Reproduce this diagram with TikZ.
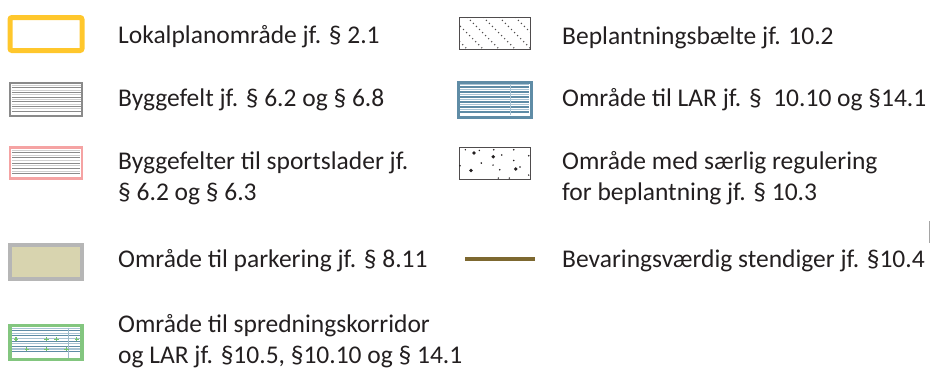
\documentclass[tikz,border=0pt]{standalone}
\usepackage{fontspec}
\setmainfont{Carlito}
\usetikzlibrary{calc}
\definecolor{textgray}{HTML}{231F20}
\definecolor{planyellow}{HTML}{FFC72C}
\definecolor{feltgray}{HTML}{8A8A8A}
\definecolor{lightline}{HTML}{CFCFCF}
\definecolor{sportpink}{HTML}{F5A3A3}
\definecolor{parkfill}{HTML}{D8D4AF}
\definecolor{parkgray}{HTML}{B6B6B6}
\definecolor{spredgreen}{HTML}{83C67F}
\definecolor{plusgreen}{HTML}{74C46A}
\definecolor{larblue}{HTML}{5F8CA6}
\definecolor{larlight}{HTML}{A9C3D3}
\definecolor{digebrown}{HTML}{7D6830}

\begin{document}
\begin{tikzpicture}[x=1pt,y=-1pt]
			\tikzset{legtext/.style={anchor=west, inner sep=0pt, text=textgray,
					font=\fontsize{25.5}{31}\selectfont, align=left}}
			\tikzset{symbox/.style={minimum width=72pt, minimum height=33pt,
					inner sep=0pt, outer sep=0pt}}
			\tikzset{darkrule/.style={draw=feltgray, line width=0.9pt}}
			\tikzset{lightrule/.style={draw=lightline, line width=0.9pt}}
			\tikzset{plusmark/.style={draw=plusgreen, line width=1.1pt}}
			\useasboundingbox (0,0) rectangle (930,370);
			%symbols, left column
			\node[symbox, draw=planyellow, line width=5pt, rounded corners=2pt] (plan) at (46,34) {};
			\node[symbox, draw=feltgray, line width=1.6pt] (felt) at (46,99.5) {};
			\node[symbox, draw=sportpink, line width=2.6pt, minimum height=31pt] (sport) at (46,163) {};
			\node[symbox, draw=parkgray, fill=parkfill, line width=4pt, minimum height=34pt] (park) at (46,261.5) {};
			\node[symbox, draw=spredgreen, line width=3.5pt, minimum height=34pt] (spred) at (46,342.5) {};
			%symbols, right column
			\node[symbox, draw=textgray!80, line width=1pt, minimum width=71pt, minimum height=32pt] (baelte) at (494.5,33) {};
			\node[symbox, draw=larblue, line width=3pt, minimum width=73pt, minimum height=35pt] (lar) at (494.5,99.5) {};
			\node[symbox, draw=textgray!80, line width=1pt, minimum width=71pt, minimum height=31.5pt] (saerlig) at (494.5,163.5) {};
			\coordinate (dige a) at (465,259);
			\coordinate (dige b) at (535,259);
			%fill patterns
			\foreach \k in {1,...,6} {
				\draw[lightrule] ($(felt.north west)+(1.5,\k*4.7-2.3)$) -- ($(felt.north east)+(-1.5,\k*4.7-2.3)$);
				\draw[darkrule] ($(felt.north west)+(1.5,\k*4.7)$) -- ($(felt.north east)+(-1.5,\k*4.7)$);
			}
			\foreach \k in {1,...,5} {
				\draw[lightrule] ($(sport.north west)+(2,\k*5.2-2.5)$) -- ($(sport.north east)+(-2,\k*5.2-2.5)$);
				\draw[darkrule] ($(sport.north west)+(2,\k*5.2)$) -- ($(sport.north east)+(-2,\k*5.2)$);
			}
			\foreach \k in {1,...,6} {
				\draw[draw=larlight, line width=1.2pt] ($(lar.north west)+(2,\k*5-2.5)$) -- ($(lar.north east)+(-2,\k*5-2.5)$);
				\draw[draw=larblue, line width=1.1pt] ($(lar.north west)+(2,\k*5)$) -- ($(lar.north east)+(-2,\k*5)$);
			}
			\draw[draw=larlight, line width=0.6pt] ($(lar.north west)+(52,2)$) -- ($(lar.south west)+(52,-2)$);
			\foreach \k in {1,...,5} {
				\draw[draw=larlight, line width=1.2pt] ($(spred.north west)+(2,\k*5.2-2.6)$) -- ($(spred.north east)+(-2,\k*5.2-2.6)$);
				\draw[draw=larblue, line width=1pt] ($(spred.north west)+(2,\k*5.2)$) -- ($(spred.north east)+(-2,\k*5.2)$);
			}
			\draw[draw=larblue!60, line width=0.6pt] ($(spred.north west)+(58,2)$) -- ($(spred.south west)+(58,-2)$);
			\foreach \dx/\dy in {6/13.7, 36.3/13.7, 46.3/13.7, 66.7/13.7, 16.7/23.7, 36.3/23.7, 56.3/23.7} {
				\draw[plusmark] ($(spred.north west)+(\dx-2.2,\dy)$) -- ++(4.4,0);
				\draw[plusmark] ($(spred.north west)+(\dx,\dy-2.2)$) -- ++(0,4.4);
			}
			\begin{scope}
				\clip (baelte.north west) rectangle (baelte.south east);
				\foreach \dx in {-40,-24,...,72}
					\draw[textgray!80, line width=1.2pt, dash pattern=on 1pt off 3.3pt]
						($(baelte.north west)+(\dx,0)$) -- ++(32,32);
			\end{scope}
			\foreach \px/\py/\r in {6.3/2/0.8, 15/5.3/1.9, 20.3/2.7/0.8, 34.7/2/0.8, 34.3/9/1.9, 42.7/7.3/0.9,
					54.7/2/0.8, 54.7/12.7/0.9, 69.7/8/0.8, 1/18/0.8, 22.3/15.3/0.9, 34/17.3/0.8,
					12/22.7/1.9, 40.7/22/0.9, 56.7/21.3/1.9, 61/19.3/0.9, 39.3/30.3/0.8, 50.3/30.3/0.8, 69.7/27.3/0.8}
				\fill[textgray] ($(saerlig.north west)+(\px,\py)$) circle (\r);
			\draw[digebrown, line width=4.5pt] (dige a) -- (dige b);
			\coordinate (edge a) at (929.5,221);
			\coordinate (edge b) at (929.5,243);
			\draw[lightline!80!black, line width=0.7pt] (edge a) -- (edge b);
			%labels
			\node[legtext] (plan text) at (118,37) {Lokalplanområde jf. § 2.1};
			\node[legtext] (felt text) at (118,100) {Byggefelt jf. § 6.2 og § 6.8};
			\node[legtext] (sport text) at (118,178.5) {Byggefelter til sportslader jf.\\§ 6.2 og § 6.3};
			\node[legtext] (park text) at (118,261) {Område til parkering jf. § 8.11};
			\node[legtext] (spred text) at (118,341) {Område til spredningskorridor\\og LAR jf. §10.5, §10.10 og § 14.1};
			\node[legtext] (baelte text) at (562,38) {Beplantningsbælte jf. 10.2};
			\node[legtext] (lar text) at (562,100) {Område til LAR jf. §\ \ 10.10 og §14.1};
			\node[legtext] (saerlig text) at (562,178.5) {Område med særlig regulering\\for beplantning jf. § 10.3};
			\node[legtext] (dige text) at (562,261) {Bevaringsværdig stendiger jf. §10.4};
		\end{tikzpicture}
\end{document}
